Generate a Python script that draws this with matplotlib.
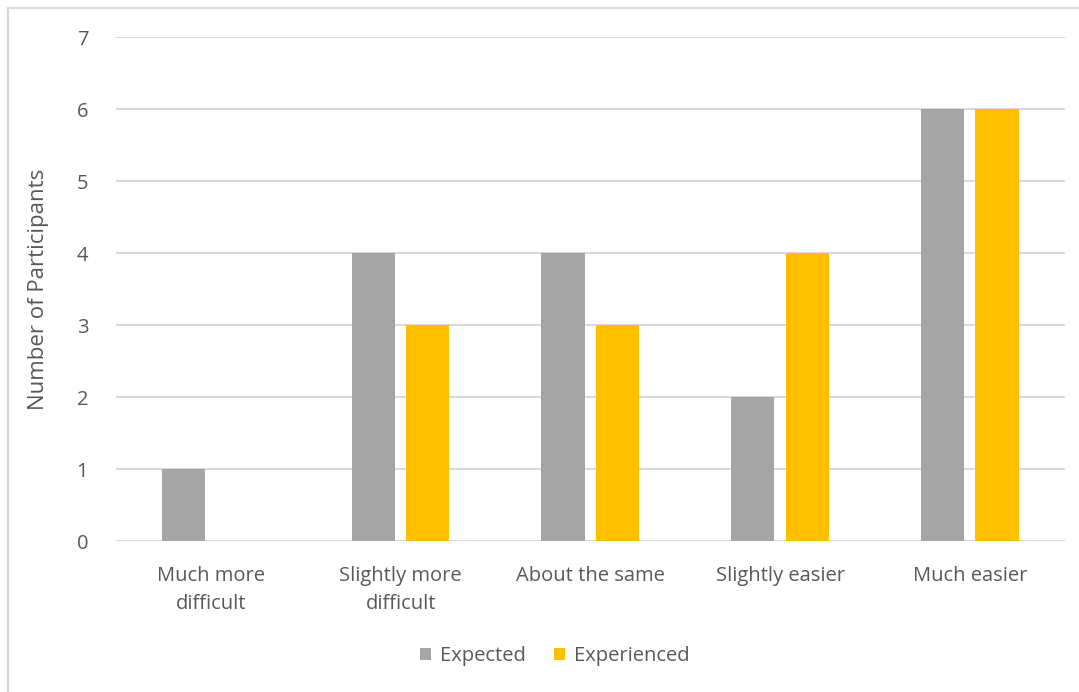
import numpy as np
import matplotlib.pyplot as plt
from matplotlib.patches import Rectangle

categories = ["Much more\ndifficult", "Slightly more\ndifficult", "About the same", "Slightly easier", "Much easier"]
expected = [1, 4, 4, 2, 6]
experienced = [0, 3, 3, 4, 6]

plt.rcParams['font.family'] = ['Open Sans', 'DejaVu Sans']
txt = "#595959"

fig = plt.figure(figsize=(10.79, 6.92), dpi=100)
ax = fig.add_axes([0.1075, 0.218, 0.8795, 0.7285])

# light frame round the whole chart
fig.patches.append(Rectangle((8 / 1079, -0.01), 1.02, 1 - 8 / 692 + 0.01, transform=fig.transFigure,
                             fill=False, edgecolor="#D9D9D9", linewidth=1.5))

x = np.arange(len(categories))
w = 0.227
ax.bar(x - 0.145, expected, w, color="#A5A5A5", label="Expected", zorder=3)
ax.bar(x + 0.142, experienced, w, color="#FFC000", label="Experienced", zorder=3)

ax.set_xlim(-0.5, len(categories) - 0.5)
ax.set_ylim(0, 7)
ax.set_yticks(range(0, 8))
ax.yaxis.grid(True, color="#D9D9D9", linewidth=1.5, zorder=0)
ax.set_axisbelow(True)
for s in ax.spines.values():
    s.set_visible(False)
ax.tick_params(length=0, labelsize=14.5, colors=txt)
ax.tick_params(axis="y", pad=20)
ax.tick_params(axis="x", pad=18)
ax.set_xticks(x)
ax.set_xticklabels(categories, linespacing=1.55)
ax.set_ylabel("Number of Participants", fontsize=16, color=txt)
ax.yaxis.set_label_coords(-0.071, 0.5)

leg = fig.legend(loc="center", bbox_to_anchor=(555 / 1079, 1 - 656 / 692), ncol=2, frameon=False,
                 fontsize=14.5, handlelength=0.55, handleheight=0.55, columnspacing=1.4, handletextpad=0.45)
for t in leg.get_texts():
    t.set_color(txt)

fig.savefig("out.png", dpi=100)
